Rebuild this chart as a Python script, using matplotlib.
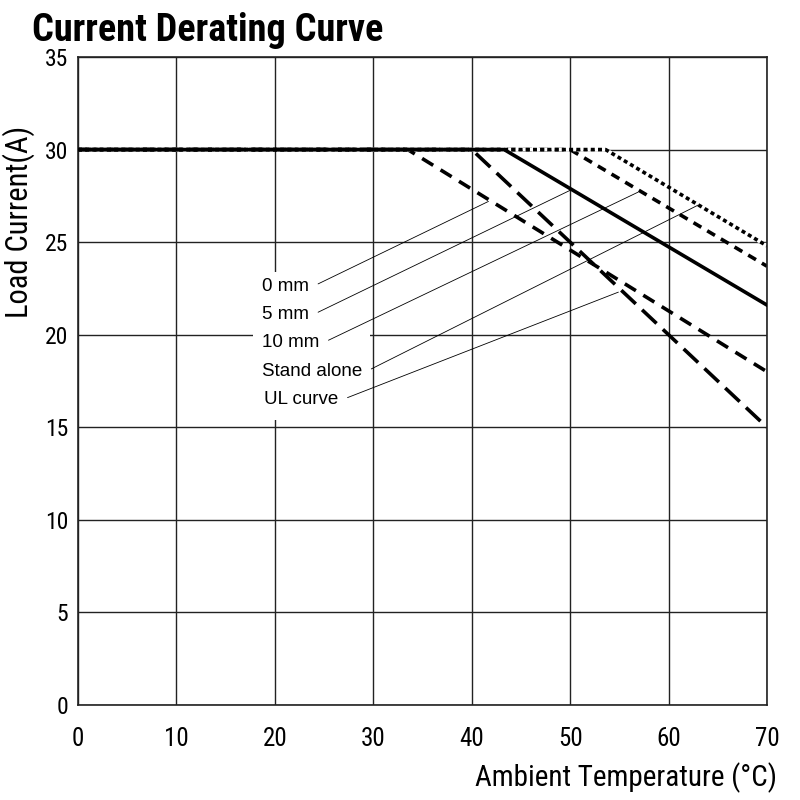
import matplotlib
matplotlib.use("Agg")
import matplotlib.pyplot as plt
from matplotlib.patches import Rectangle

# derating curves: (ambient temperature in C, load current in A)
temp_0mm = [0, 33.5, 70]
curr_0mm = [30, 30, 18.0]
temp_5mm = [0, 43.3, 70]
curr_5mm = [30, 30, 21.6]
temp_10mm = [0, 50, 70]
curr_10mm = [30, 30, 23.7]
temp_stand = [0, 53.6, 70]
curr_stand = [30, 30, 24.8]
temp_ul = [0, 40, 70]
curr_ul = [30, 30, 15]

labels = ["0 mm", "5 mm", "10 mm", "Stand alone", "UL curve"]
# where each leader line touches its curve
label_points = [(41.7, 27.2), (50.0, 27.8), (56.9, 27.7), (63.0, 27.0), (54.9, 22.3)]
label_pos = [(18.7, 22.6), (18.7, 21.07), (18.7, 19.56), (18.7, 18.0), (18.9, 16.5)]

narrow = ["Roboto Condensed", "DejaVu Sans"]

fig = plt.figure(figsize=(8, 8), dpi=100)
ax = fig.add_axes([0.0975, 0.11875, 0.86125, 0.81])

lw = 2.6
ax.plot(temp_ul, curr_ul, color="black", lw=lw, dashes=(5.5, 2.4), zorder=2)
ax.plot(temp_0mm, curr_0mm, color="black", lw=lw, dashes=(3.6, 2.4), zorder=2)
ax.plot(temp_10mm, curr_10mm, color="black", lw=lw, dashes=(2.5, 1.9), zorder=2)
# white gaps hide the other flat segments underneath the dots
ax.plot(temp_stand, curr_stand, color="black", lw=lw, dashes=(1.1, 0.9),
        gapcolor="white", zorder=2.5)
ax.plot(temp_5mm, curr_5mm, color="black", lw=lw, zorder=3)

# white box behind the labels
ax.add_patch(Rectangle((17.8, 15.4), 11.9, 8.0, facecolor="white",
                       edgecolor="none", zorder=1))

for text, (tx, ty), (px, py) in zip(labels, label_pos, label_points):
    ax.annotate(text, xy=(px, py), xytext=(tx, ty), fontsize=13.5,
                family=["Liberation Sans", "DejaVu Sans"], va="center",
                ha="left", zorder=4,
                arrowprops=dict(arrowstyle="-", lw=0.6, color="black",
                                relpos=(1, 0.4), shrinkA=5, shrinkB=0))

ax.set_xlim(0, 70)
ax.set_ylim(0, 35)
ax.set_xticks(range(0, 71, 10))
ax.set_yticks(range(0, 36, 5))
ax.grid(True, color="#222222", lw=1.0)
ax.set_axisbelow(True)
for s in ax.spines.values():
    s.set_linewidth(1.2)
    s.set_color("#222222")
ax.tick_params(length=0)
ax.tick_params(axis="x", pad=16)
ax.tick_params(axis="y", pad=7)
for t in ax.get_xticklabels():
    t.set_family(narrow)
    t.set_fontsize(18)
for t in ax.get_yticklabels():
    t.set_family(narrow)
    t.set_fontsize(17)

ax.set_ylabel("Load Current(A)", family=narrow, fontsize=22)
ax.yaxis.set_label_coords(-0.063, 0.745)
ax.set_xlabel("Ambient Temperature (°C)", family=narrow, fontsize=21,
              loc="right", labelpad=8)
ax.xaxis.label.set_x(1.015)
fig.text(0.04, 0.962, "Current Derating Curve", family=narrow,
         fontweight="bold", fontsize=27.5, va="center", ha="left")

fig.savefig("out.png", dpi=100)
